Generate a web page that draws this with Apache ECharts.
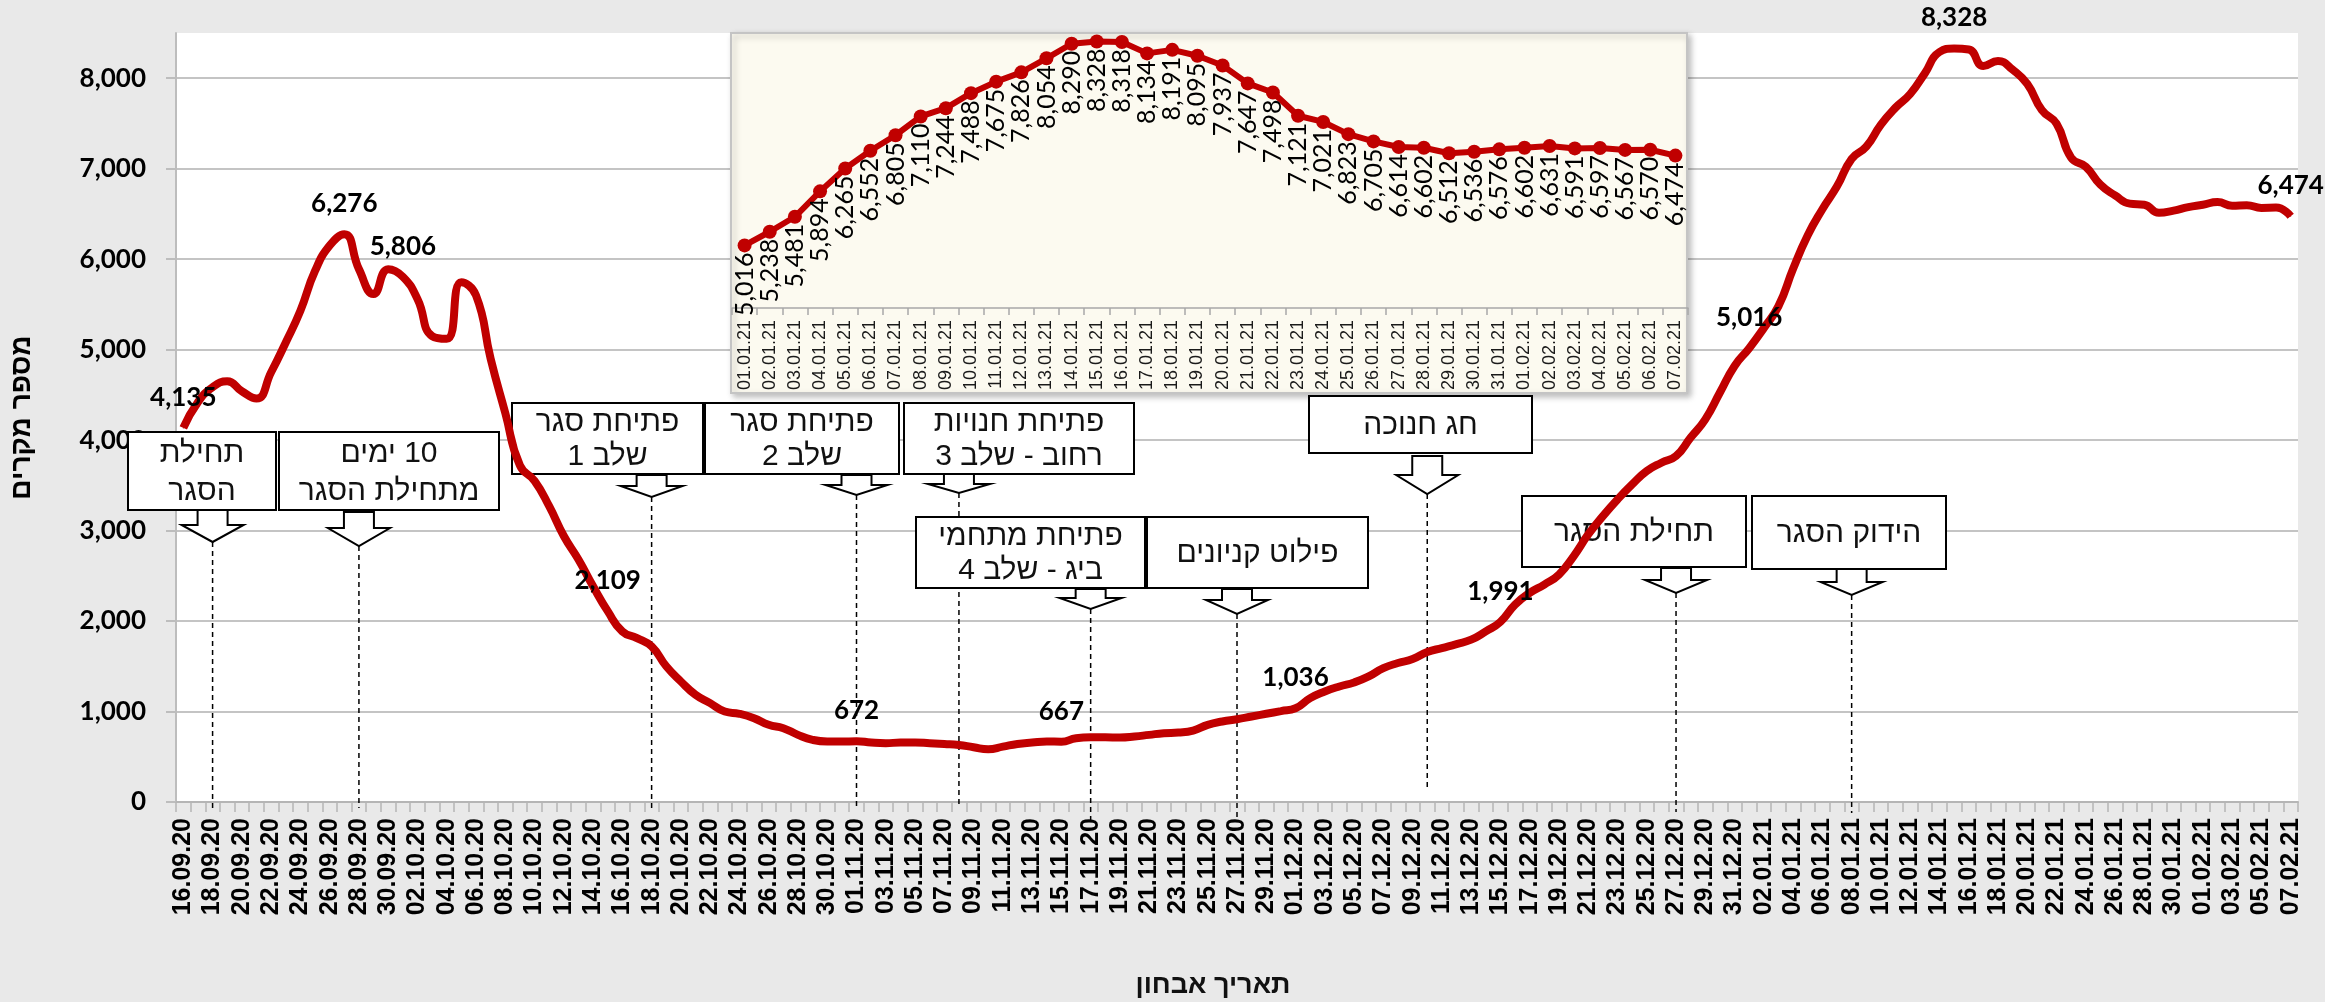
<!DOCTYPE html>
<html>
<head>
<meta charset="utf-8">
<script src="https://cdn.jsdelivr.net/npm/echarts@6/dist/echarts.min.js"></script>
<style>
  html, body { margin: 0; padding: 0; background: #e9e9e9; }
  #chart { width: 2325px; height: 1002px; direction: rtl; }
</style>
</head>
<body>
<div id="chart"></div>
<script>
// ---------------- data ----------------
const datesSep = ['16.09.20','17.09.20','18.09.20','19.09.20','20.09.20','21.09.20','22.09.20','23.09.20','24.09.20','25.09.20','26.09.20','27.09.20','28.09.20','29.09.20','30.09.20'];
const datesOct = ['01.10.20','02.10.20','03.10.20','04.10.20','05.10.20','06.10.20','07.10.20','08.10.20','09.10.20','10.10.20','11.10.20','12.10.20','13.10.20','14.10.20','15.10.20','16.10.20','17.10.20','18.10.20','19.10.20','20.10.20','21.10.20','22.10.20','23.10.20','24.10.20','25.10.20','26.10.20','27.10.20','28.10.20','29.10.20','30.10.20','31.10.20'];
const datesNov = ['01.11.20','02.11.20','03.11.20','04.11.20','05.11.20','06.11.20','07.11.20','08.11.20','09.11.20','10.11.20','11.11.20','12.11.20','13.11.20','14.11.20','15.11.20','16.11.20','17.11.20','18.11.20','19.11.20','20.11.20','21.11.20','22.11.20','23.11.20','24.11.20','25.11.20','26.11.20','27.11.20','28.11.20','29.11.20','30.11.20'];
const datesDec = ['01.12.20','02.12.20','03.12.20','04.12.20','05.12.20','06.12.20','07.12.20','08.12.20','09.12.20','10.12.20','11.12.20','12.12.20','13.12.20','14.12.20','15.12.20','16.12.20','17.12.20','18.12.20','19.12.20','20.12.20','21.12.20','22.12.20','23.12.20','24.12.20','25.12.20','26.12.20','27.12.20','28.12.20','29.12.20','30.12.20','31.12.20'];
const datesJan = ['01.01.21','02.01.21','03.01.21','04.01.21','05.01.21','06.01.21','07.01.21','08.01.21','09.01.21','10.01.21','11.01.21','12.01.21','13.01.21','14.01.21','15.01.21','16.01.21','17.01.21','18.01.21','19.01.21','20.01.21','21.01.21','22.01.21','23.01.21','24.01.21','25.01.21','26.01.21','27.01.21','28.01.21','29.01.21','30.01.21','31.01.21'];
const datesFeb = ['01.02.21','02.02.21','03.02.21','04.02.21','05.02.21','06.02.21','07.02.21'];

const casesSep = [4135,4420,4585,4650,4540,4460,4750,5080,5430,5870,6150,6276,5890,5615,5890];
const casesOct = [5806,5560,5150,5120,5745,5600,4900,4300,3720,3550,3270,2940,2680,2384,2109,1885,1812,1720,1500,1332,1185,1093,1000,975,927,853,816,742,687,668,668];
const casesNov = [672,657,650,657,657,650,642,631,605,583,612,642,657,668,667,705,716,716,712,723,742,760,767,790,853,890,915,945,975,1005];
const casesDec = [1036,1148,1222,1277,1321,1388,1480,1536,1580,1657,1702,1746,1794,1886,1991,2182,2311,2403,2514,2716,2957,3160,3344,3510,3658,3750,3824,4028,4230,4526,4820];
const casesJan = [5016,5238,5481,5894,6265,6552,6805,7110,7244,7488,7675,7826,8054,8290,8328,8318,8134,8191,8095,7937,7647,7498,7121,7021,6823,6705,6614,6602,6512,6536,6576];
const casesFeb = [6602,6631,6591,6597,6567,6570,6474];

const labeledDates = ['16.09.20','27.09.20','01.10.20','15.10.20','01.11.20','15.11.20','01.12.20','15.12.20','01.01.21','15.01.21','07.02.21'];
const yTickValues = [0,1000,2000,3000,4000,5000,6000,7000,8000];

const eventDates = ['18.09.20','28.09.20','18.10.20','01.11.20','08.11.20','17.11.20','27.11.20','10.12.20','27.12.20','08.01.21'];
const eventTexts = [
  ['תחילת','הסגר'],
  ['10 ימים','מתחילת הסגר'],
  ['פתיחת סגר','שלב 1'],
  ['פתיחת סגר','שלב 2'],
  ['פתיחת חנויות','רחוב - שלב 3'],
  ['פתיחת מתחמי','ביג - שלב 4'],
  ['פילוט קניונים'],
  ['חג חנוכה'],
  ['תחילת הסגר'],
  ['הידוק הסגר']
];

// ---------------- layout (pixels) ----------------
const eventLayout = [
  {box:[128,432,148,78],  arrow:[510,525,542], end:812},
  {box:[279,432,220,78],  arrow:[512,528,546], end:808},
  {box:[512,403,191,71],  arrow:[475,486,497], end:810},
  {box:[705,403,194,71],  arrow:[475,485,495], end:810},
  {box:[904,403,230,71],  arrow:[474,484,493], end:808},
  {box:[916,517,229,71],  arrow:[589,598,609], end:822},
  {box:[1147,517,221,71], arrow:[589,600,614], end:822},
  {box:[1309,396,223,57], arrow:[456,475,494], end:788},
  {box:[1522,496,224,71], arrow:[568,580,593], end:812},
  {box:[1752,496,194,73], arrow:[569,582,595], end:813}
];

const RED = '#c00000';
const categories = [].concat(datesSep, datesOct, datesNov, datesDec, datesJan, datesFeb);
const cases = [].concat(casesSep, casesOct, casesNov, casesDec, casesJan, casesFeb);
const insetDates = datesJan.concat(datesFeb);
const insetCases = casesJan.concat(casesFeb);
const fmt = v => Number(v).toLocaleString('en-US');

const mainData = cases.map((v, i) =>
  labeledDates.indexOf(categories[i]) >= 0 ? {value: v, label: {show: true}} : v);

const chart = echarts.init(document.getElementById('chart'));

chart.setOption({
  backgroundColor: '#e9e9e9',
  animation: false,
  textStyle: {fontFamily: 'Liberation Sans'},
  grid: [
    {left: 174, top: 33, right: 27, bottom: 200, show: true, backgroundColor: '#ffffff', borderWidth: 0},
    {left: 732, top: 37, right: 637, bottom: 694, show: false}
  ],
  xAxis: [
    {
      type: 'category', gridIndex: 0, data: categories, boundaryGap: true,
      axisLine: {lineStyle: {color: '#b5b5b5', width: 2}},
      axisTick: {show: true, interval: 0, length: 10, lineStyle: {color: '#b5b5b5', width: 1.5}},
      axisLabel: {interval: 1, rotate: 90, margin: 16, color: '#000', fontFamily: 'Liberation Sans', fontWeight: 'bold', fontSize: 25},
      splitLine: {show: false}
    },
    {
      type: 'category', gridIndex: 1, data: insetDates, boundaryGap: true, z: 3,
      axisLine: {lineStyle: {color: '#a8a8a8', width: 1.5}},
      axisTick: {show: true, interval: 0, length: 7, lineStyle: {color: '#a8a8a8', width: 1.5}},
      axisLabel: {interval: 0, rotate: 90, margin: 12, color: '#1a1a1a', fontFamily: 'Liberation Sans', fontSize: 18},
      splitLine: {show: false}
    }
  ],
  yAxis: [
    {
      type: 'value', gridIndex: 0, min: 0, max: 8500, interval: 1000,
      name: 'מספר מקרים', nameLocation: 'middle', nameGap: 140, nameRotate: 90,
      nameTextStyle: {fontFamily: 'Liberation Sans', fontWeight: 'bold', fontSize: 28, color: '#000'},
      axisLine: {show: true, lineStyle: {color: '#bdbdbd', width: 2}},
      axisTick: {show: true, length: 10, customValues: yTickValues, lineStyle: {color: '#bdbdbd', width: 2}},
      axisLabel: {formatter: fmt, customValues: yTickValues, margin: 30, color: '#000', fontFamily: 'Lato', fontWeight: 'bold', fontSize: 26},
      splitLine: {show: true, lineStyle: {color: '#c4c4c4', width: 2}}
    },
    {type: 'value', gridIndex: 1, min: 4000, max: 8400, show: false, splitLine: {show: false}}
  ],
  series: [
    {
      type: 'line', xAxisIndex: 0, yAxisIndex: 0, data: mainData, z: 2,
      smooth: 0.5, symbol: 'circle', symbolSize: 1, showAllSymbol: true,
      lineStyle: {color: RED, width: 8}, itemStyle: {color: RED},
      label: {show: false, position: 'top', distance: 17, formatter: p => fmt(p.value),
              fontFamily: 'Lato', fontWeight: 'bold', fontSize: 26, color: '#000'}
    },
    {
      type: 'line', xAxisIndex: 1, yAxisIndex: 1, data: insetCases, z: 3,
      smooth: false, symbol: 'circle', symbolSize: 14, showAllSymbol: true,
      lineStyle: {color: RED, width: 6}, itemStyle: {color: RED},
      label: {show: true, position: 'bottom', distance: 0, rotate: 90, align: 'right', verticalAlign: 'middle',
              formatter: p => fmt(p.value), fontFamily: 'Lato', fontSize: 25, color: '#000'}
    }
  ]
});

// ---------------- annotations ----------------
const g = [];
g.push({type: 'rect', z: 1, shape: {x: 731, y: 33, width: 956, height: 360},
  style: {fill: '#fcfaf0', stroke: '#c4c4c4', lineWidth: 2, shadowBlur: 6, shadowOffsetX: 3, shadowOffsetY: 3, shadowColor: 'rgba(0,0,0,0.25)'}});

eventDates.forEach((d, i) => {
  const L = eventLayout[i];
  const x = chart.convertToPixel({xAxisIndex: 0}, categories.indexOf(d));
  const [top, neck, tip] = L.arrow;
  const [bx, by, bw, bh] = L.box;
  g.push({type: 'line', z: 1, shape: {x1: x, y1: tip, x2: x, y2: L.end},
    style: {stroke: '#000', lineWidth: 1.5, lineDash: [5, 4]}});
  g.push({type: 'rect', z: 1, shape: {x: bx, y: by, width: bw, height: bh},
    style: {fill: '#ffffff', stroke: '#000', lineWidth: 2}});
  const lines = eventTexts[i];
  const ys = lines.length === 2 ? [by + bh * 0.28, by + bh * 0.76] : [by + bh * 0.52];
  lines.forEach((t, k) => {
    g.push({type: 'text', z: 1, style: {text: t, x: bx + bw / 2, y: ys[k], textAlign: 'center', textVerticalAlign: 'middle',
      font: '30px "Liberation Sans"', fill: '#111'}});
  });
  g.push({type: 'polygon', z: 1, shape: {points: [[x - 15, top], [x + 15, top], [x + 15, neck], [x + 31, neck], [x, tip], [x - 31, neck], [x - 15, neck]]},
    style: {fill: '#ffffff', stroke: '#000', lineWidth: 2}});
});

g.push({type: 'text', z: 1, style: {text: 'תאריך אבחון', x: 1213, y: 986, textAlign: 'center', textVerticalAlign: 'middle',
  font: 'bold 27px "Liberation Sans"', fill: '#111'}});

chart.setOption({graphic: g});
</script>
</body>
</html>
